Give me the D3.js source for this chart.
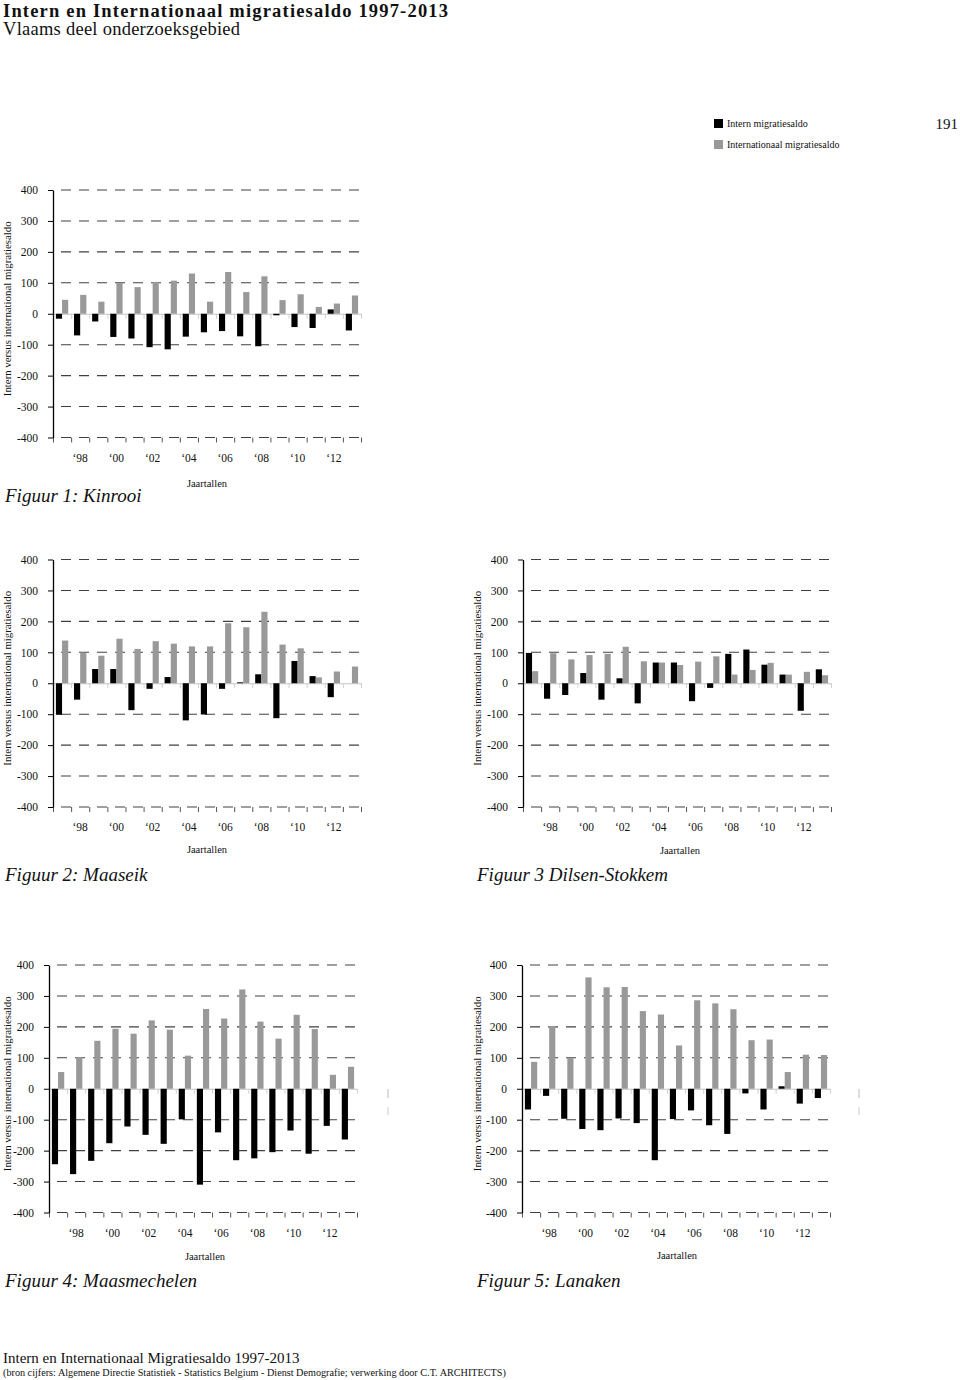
<!DOCTYPE html>
<html><head><meta charset="utf-8">
<script src="https://cdn.jsdelivr.net/npm/d3@7"></script>
<style>
body{margin:0;background:#fff}
svg{display:block}
text{font-family:"Liberation Serif","Times New Roman",serif;fill:#111}
</style>
</head><body>
<svg id="c" width="960" height="1380"></svg>
<script>
const years = [1997,1998,1999,2000,2001,2002,2003,2004,2005,2006,2007,2008,2009,2010,2011,2012,2013];
const yTicks = [400,300,200,100,0,-100,-200,-300,-400];
const xTickYears = [1998,2000,2002,2004,2006,2008,2010,2012];
const xTickLabels = ["\u201898","\u201800","\u201802","\u201804","\u201806","\u201808","\u201810","\u201812"];
const seriesNames = ["Intern migratiesaldo","Internationaal migratiesaldo"];

const kinrooiIntern = [-16,-70,-25,-75,-80,-108,-115,-74,-60,-56,-73,-105,-5,-43,-46,14,-54];
const kinrooiIntl   = [45,61,39,100,86,103,107,130,39,135,70,121,44,63,22,33,59];

const maaseikIntern = [-102,-53,46,46,-87,-18,20,-120,-101,-18,3,29,-113,72,23,-45,0];
const maaseikIntl   = [138,99,89,144,111,136,128,119,119,194,181,231,125,113,19,38,54];

const dilsenIntern = [98,-50,-38,33,-53,16,-65,67,67,-58,-15,95,109,60,28,-89,45];
const dilsenIntl   = [39,97,77,91,95,118,71,67,59,70,87,28,43,66,28,37,26];

const maasmechelenIntern = [-244,-276,-233,-176,-122,-149,-178,-99,-310,-141,-231,-225,-205,-135,-210,-120,-164];
const maasmechelenIntl   = [54,102,155,194,178,221,191,107,258,227,321,217,162,239,193,45,71];

const lanakenIntern = [-67,-23,-97,-130,-134,-96,-111,-231,-98,-70,-118,-146,-15,-67,8,-48,-30];
const lanakenIntl   = [87,203,100,360,328,329,251,240,140,286,276,257,157,159,54,110,109];

const svg = d3.select("#c");
const BLACK = "#000", GREY = "#999";

// Header
svg.append("text").attr("x",3).attr("y",17).attr("font-size",18.5).attr("font-weight","bold")
  .attr("textLength",445).attr("lengthAdjust","spacing")
  .text("Intern en Internationaal migratiesaldo 1997-2013");
svg.append("text").attr("x",3).attr("y",35).attr("font-size",18.5)
  .attr("textLength",237).attr("lengthAdjust","spacing")
  .text("Vlaams deel onderzoeksgebied");

// Legend
const leg = svg.append("g");
seriesNames.forEach((n,i)=>{
  leg.append("rect").attr("x",714).attr("y",119+i*21).attr("width",9).attr("height",9)
    .attr("fill", i===0?BLACK:GREY);
  leg.append("text").attr("x",727).attr("y",127+i*21).attr("font-size",10).text(n);
});
svg.append("text").attr("x",958).attr("y",129).attr("text-anchor","end").attr("font-size",15).text("191");

const W = 308, H = 247.5;

function drawChart(p){
  const g = svg.append("g");
  const x = d3.scaleBand().domain(years).range([p.left, p.left+W]);
  const sub = d3.scaleBand().domain(["intern","intl"]).range([2.9, x.bandwidth()-2.9]);
  const y = d3.scaleLinear().domain([-400,400]).range([p.top+H, p.top]);
  const xb = d3.scaleLinear().domain([0, years.length]).range([p.left, p.left+W]);

  // dashed gridlines
  g.selectAll("line.grid").data(yTicks.filter(d=>d!==0)).join("line")
    .attr("x1", p.left+8).attr("x2", p.left+W+4)
    .attr("y1", d=>y(d)).attr("y2", d=>y(d))
    .attr("stroke","#404040").attr("stroke-width",1.1).attr("stroke-dasharray","10,8");

  // bottom tick marks (category boundaries)
  const bAx = g.append("g").attr("transform",`translate(0,${y(-400)})`)
    .call(d3.axisBottom(xb).tickValues(d3.range(years.length+1)).tickFormat("").tickSize(5).tickSizeOuter(0));
  bAx.select(".domain").remove();
  bAx.selectAll("line").attr("stroke","#555");

  // zero line with light ticks
  const zAx = g.append("g").attr("transform",`translate(0,${y(0)})`)
    .call(d3.axisBottom(xb).tickValues(d3.range(years.length+1)).tickFormat("").tickSize(5).tickSizeOuter(0));
  zAx.select(".domain").attr("stroke","#c4c4c4");
  zAx.selectAll("line").attr("stroke","#d0d0d0");

  // bars
  const rows = years.map((yr,i)=>({yr, intern:p.intern[i], intl:p.intl[i]}));
  g.selectAll("rect.i").data(rows).join("rect")
    .attr("x", d=>x(d.yr)+sub("intern")).attr("width", sub.bandwidth())
    .attr("y", d=>y(Math.max(0,d.intern))).attr("height", d=>Math.abs(y(d.intern)-y(0)))
    .attr("fill", BLACK);
  g.selectAll("rect.n").data(rows).join("rect")
    .attr("x", d=>x(d.yr)+sub("intl")).attr("width", sub.bandwidth())
    .attr("y", d=>y(Math.max(0,d.intl))).attr("height", d=>Math.abs(y(d.intl)-y(0)))
    .attr("fill", GREY);

  // y axis
  const yAx = g.append("g").attr("transform",`translate(${p.left},0)`)
    .call(d3.axisLeft(y).tickValues(yTicks).tickSize(5).tickSizeOuter(0).tickPadding(10).tickFormat(d=>String(d)));
  yAx.select(".domain").attr("stroke","#000").attr("stroke-width",1.3);
  yAx.selectAll("line").attr("stroke","#000");
  yAx.selectAll("text").attr("font-size",11.5).attr("font-family","Liberation Serif").attr("fill","#222");

  // year labels
  const lbl = d3.scaleOrdinal().domain(xTickYears).range(xTickLabels);
  const xAx = g.append("g").attr("transform",`translate(0,${y(-400)})`)
    .call(d3.axisBottom(x).tickValues(xTickYears).tickSize(0).tickPadding(16).tickFormat(d=>lbl(d)));
  xAx.select(".domain").remove();
  xAx.selectAll("text").attr("font-size",11.5).attr("font-family","Liberation Serif").attr("fill","#222");

  // y title
  g.append("text").attr("transform",`translate(${p.titleX},${y(0)-5}) rotate(-90)`)
    .attr("text-anchor","middle").attr("font-size",10.8).text("Intern versus international migratiesaldo");

  g.append("text").attr("x",p.jaarX).attr("y",p.jaarY).attr("text-anchor","middle").attr("font-size",10.5).text("Jaartallen");
  g.append("text").attr("x",p.figX).attr("y",p.figY).attr("font-size",19).attr("font-style","italic").text(p.name);
}

drawChart({left:53, top:190, titleX:11, jaarX:207, jaarY:487, figX:5, figY:502, name:"Figuur 1: Kinrooi", intern:kinrooiIntern, intl:kinrooiIntl});
drawChart({left:53, top:559.5, titleX:11, jaarX:207, jaarY:853, figX:5, figY:881, name:"Figuur 2: Maaseik", intern:maaseikIntern, intl:maaseikIntl});
drawChart({left:523, top:559.5, titleX:481, jaarX:680, jaarY:854, figX:477, figY:881, name:"Figuur 3 Dilsen-Stokkem", intern:dilsenIntern, intl:dilsenIntl});
drawChart({left:49, top:965, titleX:11, jaarX:205, jaarY:1260, figX:5, figY:1287, name:"Figuur 4: Maasmechelen", intern:maasmechelenIntern, intl:maasmechelenIntl});
drawChart({left:522, top:965, titleX:481, jaarX:677, jaarY:1259, figX:477, figY:1287, name:"Figuur 5: Lanaken", intern:lanakenIntern, intl:lanakenIntl});

// small stray marks at the right of figures 4 and 5
[388, 859].forEach(xx=>{
  svg.append("line").attr("x1",xx).attr("x2",xx).attr("y1",1089).attr("y2",1098).attr("stroke","#bbb");
  svg.append("line").attr("x1",xx).attr("x2",xx).attr("y1",1107).attr("y2",1115).attr("stroke","#ccc");
});

// footer
svg.append("text").attr("x",3).attr("y",1363).attr("font-size",15).text("Intern en Internationaal Migratiesaldo 1997-2013");
svg.append("text").attr("x",3).attr("y",1376).attr("font-size",10.2)
  .text("(bron cijfers: Algemene Directie Statistiek - Statistics Belgium - Dienst Demografie; verwerking door C.T. ARCHITECTS)");
</script>
</body></html>
